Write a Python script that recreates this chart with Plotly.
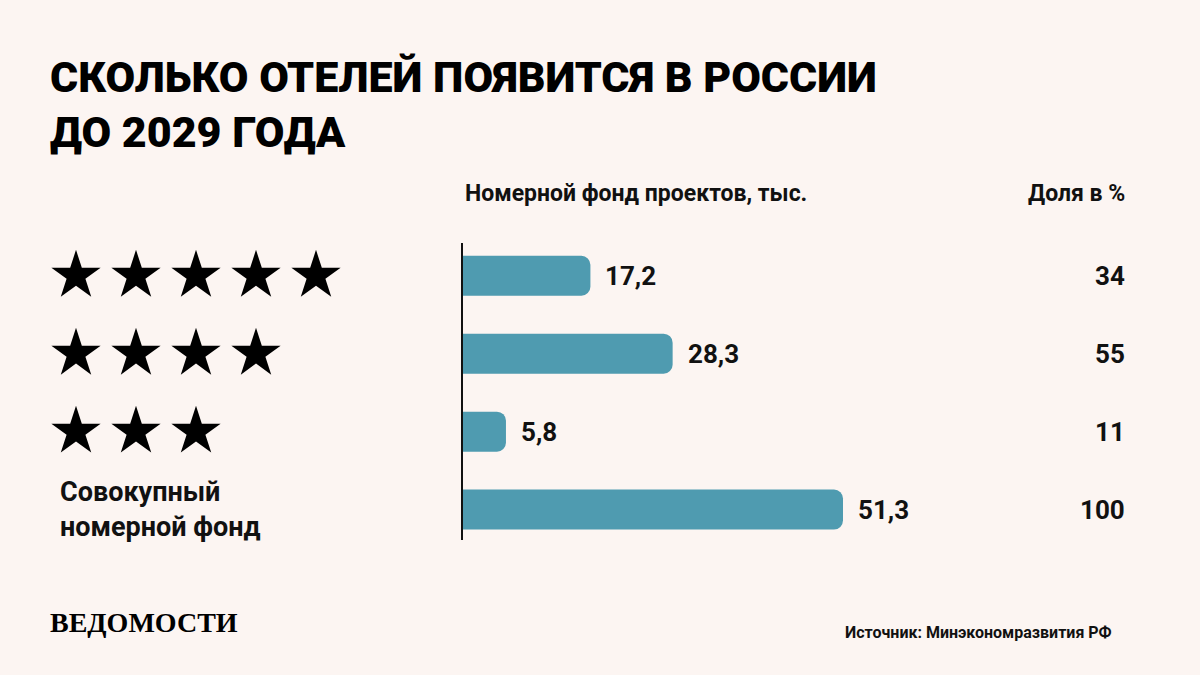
import plotly.graph_objects as go

# ---- data ----
categories = ["5 звёзд", "4 звезды", "3 звезды", "Совокупный номерной фонд"]
rooms_k = [17.2, 28.3, 5.8, 51.3]
share_pct = [34, 55, 11, 100]
star_counts = [5, 4, 3]
value_labels = ["17,2", "28,3", "5,8", "51,3"]

title_line1 = "СКОЛЬКО ОТЕЛЕЙ ПОЯВИТСЯ В РОССИИ"
title_line2 = "ДО 2029 ГОДА"
col1_header = "Номерной фонд проектов, тыс."
col2_header = "Доля в %"
total_label = "Совокупный<br>номерной фонд"
source_text = "Источник: Минэкономразвития РФ"
logo_text = "ВЕДОМОСТИ"

BG = "#FCF5F2"
BAR = "#4F9BB0"
INK = "#111111"
FONT = "Roboto"

W, H = 1200, 675
axis_x = 463
right_x = 1127
px_per_unit = (843 - 463) / 51.3

fig = go.Figure()

fig.add_trace(go.Bar(
    x=rooms_k, y=categories, orientation="h",
    marker=dict(color=BAR, line=dict(width=0)),
    xaxis="x", yaxis="y", hoverinfo="skip", showlegend=False,
))

# stars
sx, sy = [], []
for cat, n in zip(categories, star_counts):
    for i in range(1, n + 1):
        sx.append(i)
        sy.append(cat)
fig.add_trace(go.Scatter(
    x=sx, y=sy, mode="markers", xaxis="x2", yaxis="y",
    marker=dict(symbol="star", size=37, color="#000000", line=dict(width=0)),
    hoverinfo="skip", showlegend=False,
))

ann = []
for cat, v, lab, p in zip(categories, rooms_k, value_labels, share_pct):
    ann.append(dict(x=v, y=cat, xref="x", yref="y", text=lab, showarrow=False,
                    xanchor="left", yanchor="middle", xshift=13,
                    font=dict(family=FONT, size=26, color=INK, weight=700)))
    ann.append(dict(x=right_x / W, y=cat, xref="paper", yref="y", text=str(p),
                    showarrow=False, xanchor="right", yanchor="middle",
                    font=dict(family=FONT, size=26, color=INK, weight=700)))

ann.append(dict(x=58 / W, y=categories[3], xref="paper", yref="y", text=total_label,
                showarrow=False, xanchor="left", yanchor="middle", align="left",
                font=dict(family=FONT, size=27, color=INK, weight=700)))
ann.append(dict(x=48 / W, y=1 - 77 / H, xref="paper", yref="paper", text=title_line1,
                showarrow=False, xanchor="left", yanchor="middle", align="left",
                font=dict(family=FONT, size=43, color="#000000", weight=900)))
ann.append(dict(x=48 / W, y=1 - 132 / H, xref="paper", yref="paper", text=title_line2,
                showarrow=False, xanchor="left", yanchor="middle", align="left",
                font=dict(family=FONT, size=43, color="#000000", weight=900)))
ann.append(dict(x=axis_x / W, y=1 - 194 / H, xref="paper", yref="paper", text=col1_header,
                showarrow=False, xanchor="left", yanchor="middle",
                font=dict(family=FONT, size=23, color=INK, weight=700)))
ann.append(dict(x=right_x / W, y=1 - 194 / H, xref="paper", yref="paper", text=col2_header,
                showarrow=False, xanchor="right", yanchor="middle",
                font=dict(family=FONT, size=23, color=INK, weight=700)))
ann.append(dict(x=48 / W, y=1 - 622 / H, xref="paper", yref="paper", text=logo_text,
                showarrow=False, xanchor="left", yanchor="middle",
                font=dict(family="Liberation Serif", size=28, color="#000000", weight=700)))
ann.append(dict(x=1114 / W, y=1 - 632 / H, xref="paper", yref="paper", text=source_text,
                showarrow=False, xanchor="right", yanchor="middle",
                font=dict(family=FONT, size=16, color=INK, weight=700)))

x_span_units = (right_x - axis_x) / px_per_unit

fig.update_layout(
    width=W, height=H,
    margin=dict(l=0, r=0, t=0, b=0),
    paper_bgcolor=BG, plot_bgcolor=BG,
    bargap=1 - 40 / 78,
    barcornerradius=9,
    annotations=ann,
    xaxis=dict(domain=[axis_x / W, right_x / W], range=[0, x_span_units],
               showgrid=False, zeroline=False, showticklabels=False,
               showline=False, fixedrange=True),
    xaxis2=dict(domain=[0, axis_x / W], range=[-16 / 60, (axis_x - 16) / 60],
                showgrid=False, zeroline=False, showticklabels=False,
                showline=False, anchor="y", fixedrange=True),
    yaxis=dict(domain=[1 - 540 / H, 1 - 243 / H], range=[3.39, -0.42],
               type="category", categoryorder="array", categoryarray=categories,
               showgrid=False, zeroline=False, showticklabels=False,
               showline=True, linecolor="#111111", linewidth=2,
               anchor="x", fixedrange=True),
)

fig.write_html("out.html")
